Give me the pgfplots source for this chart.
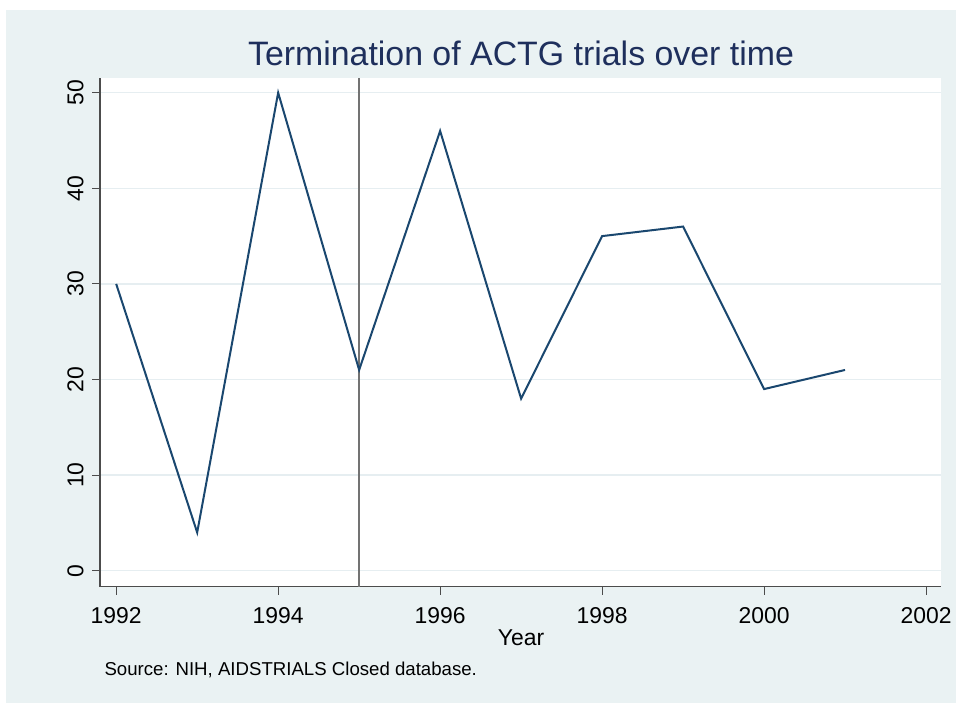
\documentclass[border=0pt]{standalone}
\usepackage{pgfplots}
\pgfplotsset{compat=1.18}
\usepackage{fontspec}
\setmainfont{Liberation Sans}
\definecolor{bgc}{HTML}{EAF2F3}
\definecolor{gridc}{HTML}{E6EEF1}
\definecolor{linec}{HTML}{1A476F}
\definecolor{titlec}{HTML}{1E2F5C}
\begin{document}
\begin{tikzpicture}[x=1bp,y=1bp]
\fill[white] (0,0) rectangle (956,703);
\fill[bgc] (6,0) rectangle (956,693);
\begin{axis}[
  at={(100bp,116.3bp)}, anchor=south west,
  scale only axis, width=841bp, height=508.7bp,
  xmin=1991.80, xmax=2002.185, ymin=-1.67, ymax=51.54,
  axis x line*=bottom, axis y line*=left,
  axis line style={black!70, line width=1.2bp, -},
  xtick={1992,1994,...,2002}, ytick={0,10,...,50},
  tick align=outside, major tick length=8bp,
  tick style={black!70, line width=1bp},
  xticklabel style={font=\fontsize{23}{23}\selectfont, yshift=-9bp},
  yticklabel style={font=\fontsize{23}{23}\selectfont, rotate=90, anchor=south, yshift=5bp},
  /pgf/number format/assume math mode=true,
  xticklabel={\pgfmathprintnumber[1000 sep={}]{\tick}},
  ymajorgrids, grid style={gridc, line width=1.5bp},
  axis background/.style={fill=white},
  clip=false,
]
\addplot[gray!90!black, line width=1.5bp] coordinates {(1995,-1.67) (1995,51.54)};
\addplot[linec, line width=2bp] coordinates {
(1992,30) (1993,4) (1994,50) (1995,21) (1996,46) (1997,18) (1998,35) (1999,36) (2000,19) (2001,21)};
\end{axis}
\node[text=titlec, font=\fontsize{34}{34}\selectfont] at (521,650) {Termination of ACTG trials over time};
\node[font=\fontsize{23}{23}\selectfont] at (521,65) {Year};
\node[anchor=west, font=\fontsize{18.7}{18.7}\selectfont] at (101,33) {Source: NIH, AIDSTRIALS Closed database.};
\end{tikzpicture}
\end{document}
